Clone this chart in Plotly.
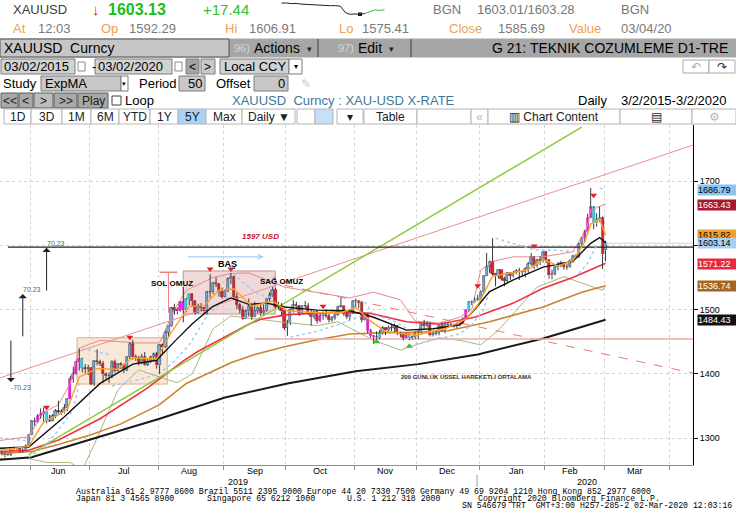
import pandas as pd
import plotly.graph_objects as go

W, H = 736, 530
UI_FONT = "Liberation Sans"
MONO_FONT = "Liberation Mono"

# ==========================================
# Price data: XAUUSD daily candles (17 May 2019 - 2 Mar 2020)
# ==========================================
holidays = ["2019-12-25", "2020-01-01"]

opens = [
    1286, 1277, 1277, 1273, 1274, 1284, 1284, 1285, 1279, 1280, 1288,
    1305, 1327, 1325, 1334, 1337, 1341, 1327, 1327, 1334, 1342, 1341, 1340, 1346, 1361, 1392, 1399, 1418, 1423, 1409, 1408,
    1409, 1384, 1420, 1418, 1415, 1399, 1396, 1397, 1419, 1404, 1415, 1413, 1406, 1426, 1446, 1426, 1424, 1417, 1426, 1414, 1419, 1426, 1430,
    1413, 1445, 1441, 1464, 1474, 1502, 1500, 1497, 1511, 1499, 1516, 1524, 1513, 1495, 1506, 1502, 1497, 1527, 1527, 1542, 1540, 1527,
    1520, 1529, 1547, 1551, 1519, 1507, 1499, 1486, 1497, 1505, 1488, 1498, 1502, 1494, 1498, 1517, 1522, 1531, 1504, 1505, 1497,
    1472, 1479, 1499, 1507, 1505, 1494, 1505, 1505, 1494, 1488, 1496, 1482, 1490, 1492, 1490, 1484, 1487, 1492, 1504, 1505, 1493, 1488, 1496,
    1513, 1514, 1510, 1484, 1491, 1467, 1459, 1457, 1456, 1463, 1471, 1468, 1472, 1472, 1474, 1464, 1462, 1456, 1462, 1455, 1457,
    1464, 1463, 1477, 1474, 1476, 1460, 1462, 1464, 1475, 1469, 1476, 1476, 1476, 1474, 1478, 1478, 1486, 1499, 1511, 1511, 1515,
    1517, 1528, 1552, 1566, 1574, 1556, 1552, 1562, 1548, 1545, 1557, 1552, 1557, 1560, 1558, 1558, 1563, 1571, 1582, 1567, 1577, 1575,
    1589, 1577, 1553, 1556, 1566, 1570, 1572, 1566, 1566, 1576, 1584, 1582, 1602, 1611, 1620, 1643, 1659, 1634, 1641, 1643,
    1592,
]
highs = [
    1287, 1280, 1278, 1276, 1286, 1287, 1286, 1286, 1284, 1290, 1306,
    1328, 1332, 1337, 1346, 1348, 1341, 1336, 1337, 1345, 1358, 1345, 1353, 1362, 1397, 1411, 1420, 1439, 1425, 1415, 1414,
    1410, 1421, 1438, 1422, 1420, 1402, 1402, 1421, 1422, 1416, 1418, 1416, 1427, 1449, 1453, 1430, 1428, 1431, 1434, 1423, 1428, 1433, 1434,
    1446, 1447, 1467, 1474, 1504, 1509, 1503, 1513, 1535, 1518, 1524, 1525, 1513, 1509, 1510, 1504, 1529, 1555, 1543, 1550, 1541, 1534,
    1530, 1550, 1557, 1553, 1526, 1510, 1505, 1500, 1517, 1509, 1512, 1505, 1508, 1508, 1518, 1527, 1535, 1534, 1512, 1510, 1497,
    1484, 1501, 1515, 1512, 1507, 1506, 1513, 1510, 1500, 1497, 1498, 1495, 1497, 1500, 1494, 1490, 1495, 1506, 1518, 1505, 1496, 1498, 1514,
    1517, 1515, 1512, 1495, 1494, 1470, 1460, 1466, 1468, 1474, 1472, 1475, 1476, 1478, 1476, 1466, 1463, 1464, 1463, 1459, 1466,
    1468, 1478, 1484, 1482, 1481, 1465, 1467, 1476, 1480, 1479, 1480, 1479, 1478, 1480, 1481, 1488, 1499, 1513, 1514, 1519, 1523,
    1530, 1553, 1588, 1576, 1611, 1557, 1563, 1562, 1551, 1558, 1558, 1560, 1563, 1565, 1560, 1566, 1574, 1588, 1583, 1579, 1583, 1590,
    1591, 1578, 1562, 1567, 1574, 1576, 1573, 1571, 1578, 1585, 1586, 1604, 1612, 1624, 1649, 1689, 1661, 1650, 1660, 1645,
    1607,
]
lows = [
    1275, 1273, 1270, 1272, 1272, 1281, 1282, 1277, 1277, 1279, 1286,
    1305, 1319, 1324, 1330, 1323, 1323, 1325, 1326, 1331, 1338, 1336, 1338, 1342, 1358, 1386, 1398, 1405, 1402, 1400, 1398,
    1382, 1381, 1413, 1412, 1386, 1391, 1386, 1393, 1402, 1403, 1407, 1401, 1404, 1423, 1422, 1420, 1413, 1415, 1413, 1412, 1417, 1421, 1408,
    1400, 1430, 1440, 1456, 1473, 1492, 1493, 1496, 1480, 1496, 1507, 1505, 1492, 1494, 1497, 1492, 1492, 1518, 1524, 1535, 1520, 1517,
    1519, 1527, 1540, 1515, 1501, 1494, 1484, 1486, 1489, 1484, 1488, 1494, 1490, 1492, 1497, 1513, 1520, 1502, 1500, 1490, 1468,
    1459, 1476, 1495, 1500, 1490, 1493, 1502, 1492, 1475, 1485, 1478, 1480, 1484, 1487, 1480, 1481, 1484, 1490, 1503, 1490, 1485, 1484, 1493,
    1503, 1502, 1480, 1483, 1463, 1456, 1446, 1450, 1454, 1461, 1460, 1465, 1466, 1465, 1460, 1457, 1452, 1455, 1452, 1453, 1454,
    1454, 1461, 1469, 1472, 1458, 1458, 1460, 1460, 1465, 1463, 1473, 1473, 1472, 1471, 1474, 1477, 1484, 1497, 1507, 1510, 1514,
    1516, 1526, 1552, 1557, 1553, 1536, 1548, 1545, 1536, 1543, 1546, 1550, 1555, 1546, 1551, 1550, 1557, 1568, 1563, 1565, 1569, 1573,
    1572, 1548, 1547, 1553, 1561, 1566, 1562, 1562, 1565, 1573, 1579, 1580, 1598, 1604, 1617, 1643, 1625, 1629, 1636, 1563,
    1575,
]
closes = [
    1277, 1277, 1273, 1274, 1284, 1284, 1285, 1279, 1280, 1288, 1305,
    1327, 1325, 1334, 1337, 1341, 1327, 1327, 1334, 1342, 1341, 1340, 1346, 1361, 1392, 1399, 1418, 1423, 1409, 1408, 1409,
    1384, 1420, 1418, 1415, 1399, 1396, 1397, 1419, 1404, 1415, 1413, 1406, 1426, 1446, 1426, 1424, 1417, 1426, 1414, 1419, 1426, 1430, 1413,
    1445, 1441, 1464, 1474, 1502, 1500, 1497, 1511, 1499, 1516, 1524, 1513, 1495, 1506, 1502, 1497, 1527, 1527, 1542, 1540, 1527, 1520,
    1529, 1547, 1551, 1519, 1507, 1499, 1486, 1497, 1505, 1488, 1498, 1502, 1494, 1498, 1517, 1522, 1531, 1504, 1505, 1497, 1472,
    1479, 1499, 1507, 1505, 1494, 1505, 1505, 1494, 1488, 1496, 1482, 1490, 1492, 1490, 1484, 1487, 1492, 1504, 1505, 1493, 1488, 1496, 1513,
    1514, 1510, 1484, 1491, 1467, 1459, 1457, 1456, 1463, 1471, 1468, 1472, 1472, 1474, 1464, 1462, 1456, 1462, 1455, 1457, 1464,
    1463, 1477, 1474, 1476, 1460, 1462, 1464, 1475, 1469, 1476, 1476, 1476, 1474, 1478, 1478, 1486, 1499, 1511, 1511, 1515, 1517,
    1528, 1552, 1566, 1574, 1556, 1552, 1562, 1548, 1545, 1557, 1552, 1557, 1560, 1558, 1558, 1563, 1571, 1582, 1567, 1577, 1575, 1589,
    1577, 1553, 1556, 1566, 1570, 1572, 1566, 1566, 1576, 1584, 1582, 1602, 1611, 1620, 1643, 1659, 1634, 1641, 1643, 1586,
    1603,
]

# candles painted by the study
magenta_days = ["2019-06-04", "2019-06-05", "2019-06-06", "2019-06-07", "2019-06-20", "2019-06-21",
                "2019-06-24", "2019-06-25", "2019-08-12", "2019-08-13", "2019-10-16", "2019-11-07",
                "2019-11-08", "2019-11-11", "2019-11-26", "2019-12-23", "2019-12-24", "2019-12-27",
                "2020-02-20", "2020-02-21", "2020-02-24"]
cyan_days = ["2019-06-10", "2019-06-26", "2019-08-14", "2019-08-15", "2019-10-17", "2019-11-12",
             "2019-11-13", "2019-11-27", "2019-12-26", "2019-12-30", "2020-02-25", "2020-02-26"]

sell_days = ["2019-06-10", "2019-07-18", "2019-08-26", "2019-09-04", "2019-10-17", "2019-12-31", "2020-01-28", "2020-02-25"]
sell_vals = [1348, 1457, 1563, 1563, 1505, 1537, 1599, 1678]
buy_days = ["2019-11-12", "2019-11-27"]
buy_vals = [1450, 1443]

# ==========================================
# Indicator lines
# ==========================================
ema200_days = ["2019-05-17", "2019-06-03", "2019-07-01", "2019-08-01", "2019-09-02", "2019-10-01",
               "2019-11-01", "2019-12-02", "2019-12-31", "2020-01-31", "2020-03-02"]
ema200_vals = [1266, 1270, 1298, 1330, 1363, 1385, 1404, 1415, 1430, 1455, 1484]

ema100_days = ["2019-05-17", "2019-06-03", "2019-06-14", "2019-07-01", "2019-07-15", "2019-08-01",
               "2019-08-14", "2019-09-04", "2019-09-16", "2019-09-30", "2019-10-15", "2019-10-30",
               "2019-11-15", "2019-11-26", "2019-12-16", "2020-01-07", "2020-01-31", "2020-02-19", "2020-03-02"]
ema100_vals = [1276, 1279, 1290, 1305, 1322, 1352, 1385, 1417, 1430, 1442, 1453, 1462,
               1464, 1464, 1467, 1481, 1504, 1527, 1537]

ema50_days = ["2019-05-17", "2019-05-31", "2019-06-14", "2019-07-04", "2019-07-26", "2019-08-13",
              "2019-08-20", "2019-09-12", "2019-09-18", "2019-10-01", "2019-10-24", "2019-11-08",
              "2019-11-26", "2019-12-11", "2019-12-30", "2020-01-17", "2020-01-31", "2020-02-14", "2020-03-02"]
ema50_vals = [1279, 1281, 1297, 1330, 1378, 1420, 1435, 1477, 1485, 1492, 1496, 1494,
              1481, 1477, 1488, 1510, 1533, 1550, 1572]

ema20_days = ["2019-05-17", "2019-05-31", "2019-06-18", "2019-07-04", "2019-07-19", "2019-07-31",
              "2019-08-08", "2019-08-16", "2019-08-27", "2019-09-04", "2019-09-12", "2019-09-20",
              "2019-09-30", "2019-10-15", "2019-10-30", "2019-11-11", "2019-11-26", "2019-12-09",
              "2019-12-20", "2019-12-30", "2020-01-07", "2020-01-17", "2020-01-31", "2020-02-14",
              "2020-02-24", "2020-02-27", "2020-03-02"]
ema20_vals = [1284, 1286, 1333, 1385, 1415, 1421, 1450, 1478, 1505, 1518, 1508, 1510,
              1504, 1499, 1498, 1488, 1468, 1470, 1476, 1500, 1528, 1546, 1566, 1575,
              1603, 1612, 1604]

ema9_days = ["2019-05-17", "2019-05-31", "2019-06-07", "2019-06-14", "2019-06-19", "2019-06-25",
             "2019-07-03", "2019-07-12", "2019-07-19", "2019-07-31", "2019-08-07", "2019-08-15",
             "2019-08-22", "2019-08-29", "2019-09-05", "2019-09-13", "2019-09-24", "2019-10-01",
             "2019-10-15", "2019-10-25", "2019-11-01", "2019-11-08", "2019-11-15", "2019-11-29",
             "2019-12-13", "2019-12-24", "2019-12-31", "2020-01-08", "2020-01-15", "2020-01-24",
             "2020-01-31", "2020-02-07", "2020-02-14", "2020-02-20", "2020-02-24", "2020-02-27", "2020-03-02"]
ema9_vals = [1281, 1287, 1325, 1336, 1345, 1395, 1408, 1407, 1425, 1423, 1465, 1505,
             1506, 1530, 1532, 1505, 1513, 1498, 1495, 1495, 1503, 1482, 1466, 1460,
             1470, 1485, 1507, 1552, 1556, 1562, 1578, 1568, 1576, 1605, 1633, 1640, 1616]

bb_up_days = ["2019-05-17", "2019-05-31", "2019-06-07", "2019-06-14", "2019-06-20", "2019-06-25",
              "2019-07-04", "2019-07-23", "2019-08-01", "2019-08-08", "2019-08-14", "2019-08-27",
              "2019-09-04", "2019-09-12", "2019-09-30", "2019-10-15", "2019-10-30", "2019-11-11",
              "2019-11-22", "2019-11-29", "2019-12-11", "2019-12-20", "2019-12-27", "2020-01-02",
              "2020-01-08", "2020-01-17", "2020-01-31", "2020-02-14", "2020-02-21", "2020-02-24", "2020-03-02"]
bb_up_vals = [1296, 1302, 1340, 1352, 1385, 1440, 1452, 1448, 1448, 1500, 1530, 1550,
              1556, 1557, 1535, 1527, 1518, 1527, 1515, 1482, 1479, 1488, 1500, 1561,
              1575, 1582, 1582, 1590, 1630, 1655, 1664]

bb_low_days = ["2019-05-17", "2019-05-31", "2019-06-10", "2019-06-20", "2019-06-26", "2019-07-03",
               "2019-07-12", "2019-07-23", "2019-08-01", "2019-08-09", "2019-08-16", "2019-08-21",
               "2019-08-27", "2019-09-04", "2019-09-20", "2019-09-30", "2019-10-15", "2019-10-24",
               "2019-11-11", "2019-11-22", "2019-12-04", "2019-12-11", "2019-12-20", "2020-01-02",
               "2020-01-10", "2020-01-21", "2020-01-29", "2020-02-11", "2020-02-25", "2020-02-28", "2020-03-02"]
bb_low_vals = [1268, 1268, 1262, 1262, 1250, 1300, 1375, 1406, 1395, 1386, 1400, 1430,
               1470, 1490, 1483, 1480, 1475, 1481, 1452, 1437, 1449, 1456, 1452, 1445,
               1468, 1504, 1535, 1551, 1535, 1530, 1538]

# parabolic SAR, one list per run of dots
sar_runs = [
    (["2019-05-17", "2019-05-30"], [1300, 1296]),
    (["2019-05-31", "2019-06-07", "2019-06-14", "2019-06-21", "2019-06-25"], [1270, 1285, 1312, 1345, 1386]),
    (["2019-06-26", "2019-07-09"], [1439, 1430]),
    (["2019-07-10", "2019-07-24", "2019-08-01", "2019-08-08", "2019-08-15", "2019-08-23", "2019-08-30", "2019-09-04"],
     [1381, 1392, 1400, 1420, 1445, 1490, 1512, 1522]),
    (["2019-09-05", "2019-09-09", "2019-09-12", "2019-09-17", "2019-09-24"], [1557, 1546, 1535, 1524, 1518]),
    (["2019-10-02", "2019-10-15", "2019-10-25", "2019-11-01", "2019-11-05"], [1457, 1466, 1478, 1486, 1490]),
    (["2019-11-06", "2019-11-11", "2019-11-19", "2019-11-26"], [1512, 1492, 1484, 1471]),
    (["2019-11-29", "2019-12-09", "2019-12-20", "2019-12-27", "2020-01-03", "2020-01-07"], [1446, 1452, 1462, 1476, 1500, 1530]),
    (["2020-01-09", "2020-01-17", "2020-01-28", "2020-02-07", "2020-02-17"], [1611, 1603, 1593, 1592, 1590]),
    (["2020-02-18", "2020-02-21", "2020-02-26"], [1556, 1572, 1600]),
    (["2020-02-27", "2020-03-02"], [1689, 1687]),
]

# drawn trendlines / levels
trend_red_x = ["2019-05-17 12:00", "2020-04-10 22:00"]
trend_red_y = [1393, 1756]
trend_green_x = ["2019-05-31 12:00", "2020-02-19 12:00"]
trend_green_y = [1274, 1784]
level_1597_x = ["2019-05-22 12:00", "2020-04-10 22:00"]
level_1597_y = [1597, 1597]
level_pink_x = ["2019-09-16 12:00", "2020-04-10 22:00"]
level_pink_y = [1454, 1454]
trend_dash_x = ["2019-09-30 12:00", "2020-04-10 22:00"]
trend_dash_y = [1538, 1401]
last_price_x = ["2020-03-02 12:00", "2020-04-10 22:00"]
last_price_y = [1603.14, 1603.14]

right_label_vals = [1686.79, 1663.43, 1615.82, 1603.14, 1571.22, 1536.74, 1484.43]
right_label_bg = ["#8CC4F4", "#A8182E", "#F0A028", "#A8CEF4", "#E8283C", "#A8641C", "#101010"]
right_label_fg = ["#000000", "#FFFFFF", "#000000", "#000000", "#FFFFFF", "#FFFFFF", "#FFFFFF"]

month_names = ["Jun", "Jul", "Aug", "Sep", "Oct", "Nov", "Dec", "Jan", "Feb", "Mar"]
month_mid = ["2019-06-14 12:00", "2019-07-16 12:00", "2019-08-15 12:00", "2019-09-16 12:00", "2019-10-16 12:00",
             "2019-11-15 12:00", "2019-12-16 12:00", "2020-01-20 12:00", "2020-02-13 12:00", "2020-03-16 12:00"]
month_edges = ["2019-06-03", "2019-07-01", "2019-08-01", "2019-09-02", "2019-10-01", "2019-11-01",
               "2019-12-02", "2020-01-02", "2020-02-03", "2020-03-02", "2020-04-01"]

spark_black = [1606.0, 1606.2, 1605.6, 1605.8, 1605.2, 1604.9, 1605.0, 1604.5, 1604.3, 1604.1,
               1603.8, 1603.9, 1603.4, 1598.0, 1596.4, 1596.8, 1596.3, 1597.2]
spark_green = [1597.2, 1599.0, 1600.2, 1599.8, 1600.4]


# ==========================================
# Helpers
# ==========================================
def at_noon(days):
    return pd.to_datetime(days) + pd.Timedelta(hours=12)


def px(x):
    return x / W


def py(y):
    return 1 - y / H


shapes = []
annotations = []


def ui_box(x0, y0, x1, y1, fill, line="#8C8C8C", lw=1):
    shapes.append(dict(type="rect", xref="paper", yref="paper", x0=px(x0), x1=px(x1),
                       y0=py(y1), y1=py(y0), fillcolor=fill, line=dict(color=line, width=lw), layer="above"))


def ui_line(x0, y0, x1, y1, color="#404040", lw=1):
    shapes.append(dict(type="line", xref="paper", yref="paper", x0=px(x0), x1=px(x1),
                       y0=py(y0), y1=py(y1), line=dict(color=color, width=lw), layer="above"))


def ui_text(x, y, text, size=13, color="#000000", anchor="left", family=UI_FONT):
    annotations.append(dict(xref="paper", yref="paper", x=px(x), y=py(y), text=text, showarrow=False,
                            xanchor=anchor, yanchor="middle", borderpad=0,
                            font=dict(size=size, color=color, family=family)))


def chart_text(day, val, text, size=9, color="#000000"):
    annotations.append(dict(xref="x", yref="y", x=day, y=val, text=text, showarrow=False,
                            xanchor="center", yanchor="middle",
                            font=dict(size=size, color=color, family=UI_FONT)))


def line_trace(x, y, color, width, dash="solid"):
    return go.Scatter(x=x, y=y, mode="lines", line=dict(color=color, width=width, dash=dash),
                      hoverinfo="skip", showlegend=False)


# ==========================================
# Candles
# ==========================================
dates = pd.bdate_range("2019-05-17", "2020-03-02")
dates = dates[~dates.isin(pd.to_datetime(holidays))]
assert len(dates) == len(opens) == len(highs) == len(lows) == len(closes)
x_candle = dates + pd.Timedelta(hours=12)
day_str = list(dates.strftime("%Y-%m-%d"))

fills, edges = [], []
for d, o, c in zip(day_str, opens, closes):
    if d in magenta_days:
        fills.append("#FF10F0"); edges.append("#C000B8")
    elif d in cyan_days:
        fills.append("#30D8F8"); edges.append("#1890B0")
    elif c >= o:
        fills.append("#7EAEE0"); edges.append("#2C3E5C")
    else:
        fills.append("#E8202C"); edges.append("#701018")

wick_x, wick_y = [], []
for x, o, h, l, c in zip(x_candle, opens, highs, lows, closes):
    wick_x += [x, x, None, x, x, None]
    wick_y += [h, max(o, c), None, min(o, c), l, None]

fig = go.Figure()

# lines under the candles
fig.add_trace(line_trace(at_noon(bb_low_days), bb_low_vals, "#A8B878", 1))
fig.add_trace(line_trace(at_noon(bb_up_days), bb_up_vals, "#E48A8A", 1))
fig.add_trace(line_trace(at_noon(ema200_days), ema200_vals, "#1A1A1A", 2))
fig.add_trace(line_trace(at_noon(ema100_days), ema100_vals, "#C8842E", 1.6))
fig.add_trace(line_trace(at_noon(ema50_days), ema50_vals, "#F03044", 1.6))
fig.add_trace(line_trace(pd.to_datetime(trend_red_x), trend_red_y, "#F08C8C", 1))
fig.add_trace(line_trace(pd.to_datetime(trend_green_x), trend_green_y, "#8CCB3A", 1.5))
fig.add_trace(line_trace(pd.to_datetime(trend_dash_x), trend_dash_y, "#E87878", 1, "dash"))
fig.add_trace(line_trace(pd.to_datetime(level_pink_x), level_pink_y, "#F4A8A8", 1.5))
fig.add_trace(line_trace(pd.to_datetime(level_1597_x), level_1597_y, "#202020", 1.2))
fig.add_trace(line_trace(pd.to_datetime(last_price_x), last_price_y, "#B8D6F6", 1))

sar_x, sar_y = [], []
for days, vals in sar_runs:
    sar_x += list(at_noon(days)) + [None]
    sar_y += vals + [None]
fig.add_trace(line_trace(sar_x, sar_y, "#9CC8F4", 1.4, "dot"))

fig.add_trace(go.Scatter(x=wick_x, y=wick_y, mode="lines", line=dict(color="#3A3A3A", width=1),
                         hoverinfo="skip", showlegend=False))
fig.add_trace(go.Bar(x=x_candle, y=[c - o for o, c in zip(opens, closes)], base=opens,
                     width=0.72 * 86400000, marker=dict(color=fills, line=dict(color=edges, width=0.6)),
                     hoverinfo="skip", showlegend=False))

fig.add_trace(line_trace(at_noon(ema20_days), ema20_vals, "#111111", 1.4))
fig.add_trace(line_trace(at_noon(ema9_days), ema9_vals, "#FFA024", 1.4))

fig.add_trace(go.Scatter(x=at_noon(sell_days), y=sell_vals, mode="markers",
                         marker=dict(symbol="triangle-down", size=6, color="#E0202A"),
                         hoverinfo="skip", showlegend=False))
fig.add_trace(go.Scatter(x=at_noon(buy_days), y=buy_vals, mode="markers",
                         marker=dict(symbol="triangle-up", size=6, color="#3CB83C"),
                         hoverinfo="skip", showlegend=False))

# header sparkline
fig.add_trace(go.Scatter(x=list(range(len(spark_black))), y=spark_black, mode="lines",
                         line=dict(color="#202020", width=1), xaxis="x2", yaxis="y2",
                         hoverinfo="skip", showlegend=False))
fig.add_trace(go.Scatter(x=list(range(len(spark_black) - 1, len(spark_black) - 1 + len(spark_green))),
                         y=spark_green, mode="lines", line=dict(color="#30C030", width=1),
                         xaxis="x2", yaxis="y2", hoverinfo="skip", showlegend=False))
fig.add_trace(go.Scatter(x=[spark_black.index(min(spark_black))], y=[min(spark_black)], mode="markers",
                         marker=dict(symbol="square", size=4, color="#202020"),
                         xaxis="x2", yaxis="y2", hoverinfo="skip", showlegend=False))

# ==========================================
# Pattern boxes, arrows and notes on the chart
# ==========================================
shapes.append(dict(type="rect", xref="x", yref="y", x0="2019-06-24 18:00", x1="2019-08-06 02:00",
                   y0=1384, y1=1456, fillcolor="rgba(240,214,184,0.55)",
                   line=dict(color="#D8B088", width=1), layer="between"))
shapes.append(dict(type="rect", xref="x", yref="y", x0="2019-08-13 11:00", x1="2019-09-25 10:00",
                   y0=1493, y1=1560, fillcolor="rgba(228,186,186,0.55)",
                   line=dict(color="#C89494", width=1), layer="between"))
shapes.append(dict(type="line", xref="x", yref="y", x0="2019-08-01 12:00", x1="2019-08-09 12:00",
                   y0=1558, y1=1558, line=dict(color="#F08080", width=1.5)))
shapes.append(dict(type="line", xref="x", yref="y", x0="2019-08-06 12:00", x1="2019-08-06 12:00",
                   y0=1558, y1=1495, line=dict(color="#F08080", width=1)))

annotations.append(dict(xref="x", yref="y", axref="x", ayref="y", x="2019-09-19 12:00", y=1582,
                        ax="2019-08-14 12:00", ay=1582, text="", showarrow=True, arrowhead=5,
                        arrowsize=1, arrowwidth=1, arrowcolor="#9CC4F0"))
for day, y_from, y_to, txt, ty in [("2019-06-10 12:00", 1527, 1596, "70.23", 1603),
                                   ("2019-05-29 12:00", 1456, 1524, "70.23", 1531),
                                   ("2019-05-23 12:00", 1454, 1387, "-70.23", 1378)]:
    annotations.append(dict(xref="x", yref="y", axref="x", ayref="y", x=day, y=y_to, ax=day, ay=y_from,
                            text="", showarrow=True, arrowhead=1, arrowsize=1.4, arrowwidth=1,
                            arrowcolor="#202020"))
    annotations.append(dict(xref="x", yref="y", x=day, y=ty, text=txt, showarrow=False, xanchor="left",
                            yanchor="middle", xshift=-2, font=dict(size=7, color="#606060", family=UI_FONT)))

chart_text("2019-08-07 17:00", 1540, "<b>SOL OMUZ</b>", 8)
chart_text("2019-09-03 07:00", 1571, "<b>BAŞ</b>", 9)
chart_text("2019-09-27 12:00", 1543, "<b>SAĞ OMUZ</b>", 8)
chart_text("2019-09-18 10:00", 1613, "<b><i>1597 USD</i></b>", 8, "#D0102C")
chart_text("2019-12-24 17:00", 1395, "<b>200 GÜNLÜK ÜSSEL HAREKETLİ ORTALAMA</b>", 6, "#303030")

# right-hand value tags
for val, bg, fg in zip(right_label_vals, right_label_bg, right_label_fg):
    annotations.append(dict(xref="paper", yref="y", x=px(697), y=val, text=f"{val:.2f}", showarrow=False,
                            xanchor="left", yanchor="middle", bgcolor=bg, width=38, height=10,
                            align="left", borderpad=0, font=dict(size=9, color=fg, family=UI_FONT)))

# month / year labels
for name, day in zip(month_names, month_mid):
    annotations.append(dict(xref="x", yref="paper", x=day, y=py(471), text=name, showarrow=False,
                            xanchor="center", yanchor="middle", font=dict(size=9, color="#000000", family=UI_FONT)))
ui_text(238, 481.5, "2019", 9, anchor="center")
ui_text(587, 481.5, "2020", 9, anchor="center")
ui_line(477, 475, 477, 487, "#A0A0A0")

# ==========================================
# Terminal chrome
# ==========================================
ui_text(12, 10, "XAUUSD", 13, "#3C3C3C")
ui_text(91, 10, "↓", 15, "#E02020")
ui_text(107, 10, "<b>1603.13</b>", 16, "#18C018")
ui_text(202, 10, "+17.44", 15, "#30C030")
ui_text(432, 10, "BGN", 13, "#767676")
ui_text(476, 10, "1603.01/1603.28", 13, "#767676")
ui_text(620, 10, "BGN", 13, "#767676")

for txt, x, col in [("At", 12, "#F0A050"), ("12:03", 37, "#7A7A7A"), ("Op", 100, "#F0A050"),
                    ("1592.29", 128, "#7A7A7A"), ("Hi", 224, "#F0A050"), ("1606.91", 248, "#7A7A7A"),
                    ("Lo", 338, "#F0A050"), ("1575.41", 361, "#7A7A7A"), ("Close", 448, "#F0A050"),
                    ("1585.69", 497, "#7A7A7A"), ("Value", 568, "#F0A050"), ("03/04/20", 620, "#7A7A7A")]:
    ui_text(x, 29, txt, 13, col)

ui_box(0, 39, 736, 57, "#A6A6A6", "#A6A6A6")
ui_box(0, 39, 229, 57, "#C6C6C6", "#505050")
ui_line(318, 39, 318, 57, "#404040")
ui_line(411, 39, 411, 57, "#404040")
ui_text(3, 48, "XAUUSD\u00a0\u00a0Curncy", 14)
ui_text(233, 48, "96)", 11, "#D4D4D4")
ui_text(253, 48, "Actions", 14)
ui_text(306, 49, "▾", 9, "#202020")
ui_text(337, 48, "97)", 11, "#D4D4D4")
ui_text(357, 48, "Edit", 14)
ui_text(388, 49, "▾", 9, "#202020")
ui_text(729, 48, "G 21: TEKNIK COZUMLEME D1-TRE", 14, anchor="right")

ui_box(1, 59, 75, 74, "#D2D2D2", "#7C7C7C")
ui_text(3, 66.5, "03/02/2015", 13)
ui_box(78, 62, 85, 71, "#FFFFFF", "#8C8C8C")
ui_text(91, 66.5, "-", 13)
ui_box(95, 59, 172, 74, "#D2D2D2", "#7C7C7C")
ui_text(97, 66.5, "03/02/2020", 13)
ui_box(175, 62, 182, 71, "#FFFFFF", "#8C8C8C")
ui_box(186, 59, 199, 74, "#A4A4A4", "#7C7C7C")
ui_text(192.5, 66.5, "&lt;", 12, anchor="center")
ui_box(201, 59, 215, 74, "#C8C8C8", "#7C7C7C")
ui_text(208, 66.5, "&gt;", 12, anchor="center")
ui_box(220, 59, 289, 74, "#D2D2D2", "#7C7C7C")
ui_text(223, 66.5, "Local CCY", 13)
ui_box(289, 59, 302, 74, "#FFFFFF", "#7C7C7C")
ui_text(295.5, 67, "▾", 8, anchor="center")
ui_box(683, 60, 709, 73, "#FFFFFF", "#A8A8A8")
ui_text(696, 66.5, "↶", 12, "#B0B0B0", anchor="center")
ui_box(709, 60, 735, 73, "#FFFFFF", "#A8A8A8")
ui_text(722, 66.5, "↷", 12, "#303030", anchor="center")

ui_text(2, 83.5, "Study", 13)
ui_box(41, 76, 121, 91, "#C8C8C8", "#7C7C7C")
ui_text(44, 83.5, "ExpMA", 13)
ui_box(121, 76, 128, 91, "#FFFFFF", "#7C7C7C")
ui_text(124.5, 84, "▾", 7, anchor="center")
ui_text(138, 83.5, "Period", 13)
ui_box(179, 76, 205, 91, "#C8C8C8", "#7C7C7C")
ui_text(203, 83.5, "50", 13, anchor="right")
ui_text(215, 83.5, "Offset", 13)
ui_box(254, 76, 288, 91, "#C8C8C8", "#7C7C7C")
ui_text(286, 83.5, "0", 13, anchor="right")
ui_text(300, 83.5, "✎", 12, "#C4C4C4")

for x0, x1, txt, bg in [(1, 18, "&lt;&lt;", "#A8A8A8"), (19, 33, "&lt;", "#A8A8A8"), (34, 53, "&gt;", "#BCBCBC"),
                        (54, 77, "&gt;&gt;", "#A8A8A8"), (78, 108, "Play", "#A8A8A8")]:
    ui_box(x0, 93, x1, 108, bg, "#5C5C5C")
    ui_text((x0 + x1) / 2, 100.5, txt, 12, "#202020", anchor="center")
ui_box(112, 96, 121, 105, "#FFFFFF", "#404040")
ui_text(124, 100.5, "Loop", 13)
ui_text(231, 100.5, "XAUUSD\u00a0\u00a0Curncy : XAU-USD X-RATE", 13, "#3E7898")
ui_text(577, 100.5, "Daily", 13)
ui_text(620, 100.5, "3/2/2015-3/2/2020", 13)

toolbar = [(4, 31, "1D"), (31, 62, "3D"), (62, 91, "1M"), (91, 119, "6M"), (119, 150, "YTD"),
           (150, 178, "1Y"), (178, 206, "5Y"), (206, 242, "Max"), (242, 295, "Daily ▼"),
           (297, 315, ""), (315, 333, ""), (337, 363, "▾"), (364, 417, "Table"), (417, 471, ""),
           (471, 488, "«"), (488, 620, "▥ Chart Content"), (620, 692, "▤"), (692, 736, "⚙")]
for x0, x1, txt in toolbar:
    bg = "#A8D2F6" if txt == "5Y" else ("#C6E0F8" if x0 == 315 else "#FFFFFF")
    ui_box(x0, 109, x1, 124, bg, "#B4B4B4")
    col = "#B8B8B8" if txt in ("«", "⚙") else "#202020"
    ui_text((x0 + x1) / 2, 116.5, txt, 12, col, anchor="center")

ui_text(75, 491, "Australia 61 2 9777 8600 Brazil 5511 2395 9000 Europe 44 20 7330 7500 Germany 49 69 9204 1210 Hong Kong 852 2977 6000",
        8.2, family=MONO_FONT)
ui_text(75, 498, "Japan 81 3 4565 8900", 8.2, family=MONO_FONT)
ui_text(206, 498, "Singapore 65 6212 1000", 8.2, family=MONO_FONT)
ui_text(346, 498, "U.S. 1 212 318 2000", 8.2, family=MONO_FONT)
ui_text(477, 498, "Copyright 2020 Bloomberg Finance L.P.", 8.2, family=MONO_FONT)
ui_text(733, 505, "SN 546679 TRT\u00a0\u00a0GMT+3:00 H257-285-2 02-Mar-2020 12:03:16", 8.2,
        anchor="right", family=MONO_FONT)

# ==========================================
# Layout
# ==========================================
fig.update_layout(
    width=W, height=H,
    margin=dict(l=0, r=0, t=0, b=0),
    paper_bgcolor="white", plot_bgcolor="white",
    showlegend=False, hovermode=False, bargap=0,
    font=dict(family=UI_FONT, size=9, color="#000000"),
    xaxis=dict(
        type="date", domain=[0, 693 / W],
        range=["2019-05-17 20:00", "2020-04-10 22:00"],
        rangebreaks=[dict(bounds=["sat", "mon"]), dict(values=holidays)],
        tickvals=month_edges, showticklabels=False,
        ticks="outside", ticklen=4, tickcolor="#909090",
        showgrid=True, gridcolor="#D4D4D4", griddash="dot",
        showline=True, linecolor="#909090", zeroline=False, fixedrange=True,
    ),
    yaxis=dict(
        domain=[py(465), py(125)], range=[1258, 1787.2], side="right",
        tickvals=[1300, 1400, 1500, 1600, 1700],
        ticks="outside", ticklen=4, tickcolor="#000000",
        showgrid=True, gridcolor="#D4D4D4", griddash="dot",
        showline=True, linecolor="#000000", zeroline=False,
        tickfont=dict(size=9, color="#000000"), fixedrange=True,
    ),
    xaxis2=dict(domain=[px(280), px(386)], anchor="y2", visible=False, range=[-0.3, 21.3]),
    yaxis2=dict(domain=[py(16), py(2)], anchor="x2", visible=False, range=[1595, 1607]),
    shapes=shapes,
    annotations=annotations,
)

# the page's default body margin would push the 736x530 figure out of the window
fig.write_html("out.html", config={"displayModeBar": False},
               post_script="document.body.style.margin='0';")
